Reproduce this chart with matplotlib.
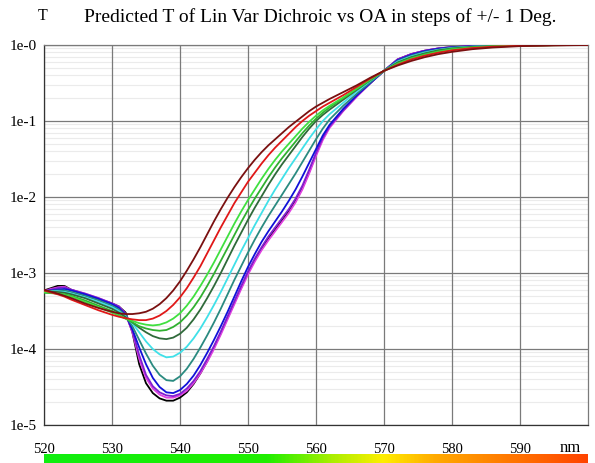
import numpy as np
import matplotlib

matplotlib.use("Agg")
import matplotlib.pyplot as plt
from matplotlib.colors import LinearSegmentedColormap
from matplotlib.ticker import FixedLocator, LogLocator, NullFormatter

plt.rcParams["font.family"] = ["Liberation Serif", "DejaVu Serif"]

# wavelength samples (nm)
wl = [520, 521, 522, 523, 524, 526, 528, 530, 531, 532, 533, 534, 535, 536, 537, 538, 539,
      540, 541, 542, 543, 544, 545, 546, 547, 548, 549, 550, 551, 552, 553, 554, 555, 556,
      557, 558, 559, 560, 561, 562, 564, 566, 568, 570, 572, 574, 576, 578, 580, 583, 586,
      590, 595, 600]

# log10(T), one list per curve
maroon = [-3.22, -3.245, -3.27, -3.30, -3.33, -3.40, -3.46, -3.51, -3.53, -3.54, -3.54, -3.53,
          -3.51, -3.47, -3.41, -3.33, -3.23, -3.11, -2.97, -2.82, -2.66, -2.49, -2.32, -2.16,
          -2.01, -1.87, -1.74, -1.62, -1.51, -1.41, -1.32, -1.24, -1.16, -1.08, -1.01, -0.94,
          -0.87, -0.81, -0.76, -0.71, -0.62, -0.53, -0.43, -0.34, -0.27, -0.21, -0.16, -0.12,
          -0.09, -0.055, -0.033, -0.015, -0.005, 0.0]
red = [-3.23, -3.255, -3.28, -3.31, -3.35, -3.42, -3.49, -3.55, -3.575, -3.595, -3.61, -3.62,
       -3.62, -3.60, -3.56, -3.50, -3.42, -3.32, -3.20, -3.06, -2.91, -2.74, -2.57, -2.40,
       -2.24, -2.08, -1.94, -1.80, -1.68, -1.56, -1.45, -1.35, -1.26, -1.17, -1.08, -1.00,
       -0.93, -0.87, -0.81, -0.76, -0.66, -0.55, -0.44, -0.34, -0.26, -0.19, -0.14, -0.10,
       -0.07, -0.04, -0.022, -0.01, -0.003, 0.0]
lime = [-3.25, -3.26, -3.27, -3.29, -3.31, -3.38, -3.45, -3.52, -3.56, -3.60, -3.63, -3.66,
        -3.68, -3.69, -3.68, -3.65, -3.60, -3.53, -3.43, -3.31, -3.17, -3.02, -2.86, -2.69,
        -2.52, -2.35, -2.19, -2.04, -1.90, -1.76, -1.63, -1.51, -1.40, -1.30, -1.20, -1.10,
        -1.01, -0.93, -0.86, -0.80, -0.69, -0.57, -0.45, -0.34, -0.25, -0.18, -0.13, -0.09,
        -0.06, -0.035, -0.02, -0.008, -0.002, 0.0]
green = [-3.26, -3.265, -3.27, -3.28, -3.30, -3.36, -3.43, -3.50, -3.55, -3.60, -3.65, -3.70,
         -3.73, -3.75, -3.76, -3.75, -3.71, -3.65, -3.56, -3.45, -3.32, -3.17, -3.01, -2.84,
         -2.67, -2.50, -2.33, -2.17, -2.02, -1.88, -1.74, -1.61, -1.49, -1.38, -1.27, -1.16,
         -1.06, -0.97, -0.89, -0.82, -0.70, -0.58, -0.46, -0.34, -0.24, -0.17, -0.12, -0.08,
         -0.05, -0.03, -0.017, -0.007, -0.002, 0.0]
dkgreen = [-3.24, -3.245, -3.25, -3.26, -3.28, -3.33, -3.40, -3.47, -3.52, -3.58, -3.65, -3.72,
           -3.78, -3.83, -3.86, -3.87, -3.85, -3.80, -3.72, -3.61, -3.48, -3.33, -3.17, -3.00,
           -2.82, -2.64, -2.47, -2.30, -2.14, -1.99, -1.84, -1.70, -1.57, -1.45, -1.33, -1.21,
           -1.10, -1.00, -0.92, -0.85, -0.72, -0.59, -0.46, -0.34, -0.23, -0.16, -0.11, -0.07,
           -0.045, -0.025, -0.014, -0.006, -0.002, 0.0]
cyan = [-3.24, -3.24, -3.24, -3.25, -3.27, -3.32, -3.38, -3.45, -3.50, -3.57, -3.66, -3.78,
        -3.90, -4.00, -4.07, -4.11, -4.10, -4.05, -3.97, -3.86, -3.73, -3.58, -3.42, -3.25,
        -3.07, -2.89, -2.71, -2.54, -2.37, -2.21, -2.05, -1.90, -1.76, -1.62, -1.49, -1.36,
        -1.23, -1.11, -1.00, -0.91, -0.76, -0.61, -0.47, -0.34, -0.22, -0.15, -0.10, -0.065,
        -0.04, -0.022, -0.012, -0.005, -0.0015, 0.0]
teal = [-3.24, -3.235, -3.23, -3.23, -3.25, -3.30, -3.36, -3.43, -3.48, -3.56, -3.70, -3.88,
        -4.06, -4.22, -4.34, -4.41, -4.42, -4.36, -4.26, -4.13, -3.98, -3.82, -3.65, -3.47,
        -3.28, -3.09, -2.91, -2.73, -2.56, -2.40, -2.25, -2.11, -1.97, -1.83, -1.69, -1.54,
        -1.39, -1.24, -1.10, -0.98, -0.80, -0.64, -0.49, -0.34, -0.21, -0.14, -0.09, -0.06,
        -0.035, -0.02, -0.01, -0.004, -0.001, 0.0]
blue = [-3.24, -3.23, -3.22, -3.21, -3.23, -3.28, -3.34, -3.41, -3.46, -3.55, -3.74, -3.98,
        -4.20, -4.38, -4.50, -4.57, -4.58, -4.54, -4.46, -4.35, -4.21, -4.05, -3.88, -3.70,
        -3.51, -3.31, -3.11, -2.92, -2.75, -2.59, -2.45, -2.32, -2.19, -2.05, -1.90, -1.73,
        -1.55, -1.37, -1.19, -1.05, -0.84, -0.66, -0.50, -0.34, -0.20, -0.13, -0.08, -0.05,
        -0.03, -0.016, -0.008, -0.003, -0.001, 0.0]
purple = [-3.24, -3.22, -3.20, -3.19, -3.22, -3.27, -3.33, -3.40, -3.44, -3.54, -3.76, -4.08,
          -4.34, -4.49, -4.57, -4.61, -4.62, -4.59, -4.52, -4.42, -4.29, -4.13, -3.96, -3.77,
          -3.57, -3.37, -3.17, -2.98, -2.81, -2.66, -2.52, -2.40, -2.28, -2.16, -2.02, -1.85,
          -1.64, -1.42, -1.22, -1.07, -0.86, -0.67, -0.50, -0.34, -0.19, -0.12, -0.075, -0.045,
          -0.028, -0.015, -0.008, -0.003, -0.001, 0.0]
magenta = [-3.24, -3.21, -3.19, -3.18, -3.22, -3.27, -3.33, -3.40, -3.44, -3.54, -3.78, -4.13,
           -4.38, -4.52, -4.60, -4.64, -4.64, -4.61, -4.55, -4.45, -4.32, -4.17, -4.00, -3.81,
           -3.61, -3.41, -3.21, -3.02, -2.85, -2.70, -2.57, -2.45, -2.33, -2.21, -2.07, -1.90,
           -1.69, -1.46, -1.25, -1.09, -0.87, -0.68, -0.50, -0.34, -0.19, -0.12, -0.075, -0.045,
           -0.028, -0.015, -0.008, -0.003, -0.001, 0.0]
black = [-3.23, -3.20, -3.17, -3.17, -3.22, -3.28, -3.34, -3.40, -3.44, -3.52, -3.78, -4.20,
         -4.45, -4.58, -4.65, -4.68, -4.68, -4.64, -4.57, -4.46, -4.32, -4.16, -3.98, -3.79,
         -3.59, -3.39, -3.19, -3.00, -2.83, -2.68, -2.55, -2.43, -2.31, -2.19, -2.05, -1.88,
         -1.67, -1.44, -1.23, -1.07, -0.86, -0.67, -0.50, -0.34, -0.19, -0.12, -0.075, -0.045,
         -0.028, -0.015, -0.008, -0.003, -0.001, 0.0]

curves = [
    (black, "#000000"),
    (magenta, "#e040e0"),
    (purple, "#8020d0"),
    (blue, "#1010d8"),
    (teal, "#2a8a80"),
    (cyan, "#40e0e8"),
    (dkgreen, "#2f6a3a"),
    (green, "#30b030"),
    (lime, "#40e040"),
    (red, "#e01818"),
    (maroon, "#7a1010"),
]

xticks = [520, 530, 540, 550, 560, 570, 580, 590]
ytick_vals = [1e0, 1e-1, 1e-2, 1e-3, 1e-4, 1e-5]
ytick_labels = ["1e-0", "1e-1", "1e-2", "1e-3", "1e-4", "1e-5"]

fig = plt.figure(figsize=(5.95, 4.63), dpi=100)
ax = fig.add_axes([44 / 595, 1 - 425 / 463, 544 / 595, 380 / 463])

wl_arr = np.array(wl)
for vals, col in curves:
    assert len(vals) == len(wl)
    ax.plot(wl_arr, 10 ** np.array(vals), color=col, lw=1.3, zorder=4,
            solid_joinstyle="round")

ax.set_yscale("log")
ax.set_xlim(520, 600)
ax.set_ylim(1e-5, 1.0)

ax.xaxis.set_major_locator(FixedLocator(xticks))
ax.yaxis.set_major_locator(FixedLocator(ytick_vals))
ax.set_yticklabels(ytick_labels)
ax.yaxis.set_minor_locator(LogLocator(base=10, subs=np.arange(2, 10)))
ax.yaxis.set_minor_formatter(NullFormatter())

# light minor rows as axis grid, the darker decade and 10 nm lines drawn above them
ax.set_axisbelow(True)
ax.grid(True, which="minor", axis="y", color="#ebebeb", lw=0.8, ls="-")
for yv in ytick_vals:
    ax.axhline(yv, color="#7a7a7a", lw=0.9, ls="-", zorder=2)
for xv in xticks:
    ax.axvline(xv, color="#7a7a7a", lw=0.9, ls="-", zorder=2)

ax.tick_params(which="both", length=0)
ax.tick_params(axis="y", labelsize=11, pad=5)
ax.tick_params(axis="x", labelsize=10.5, pad=13)
for s in ax.spines.values():
    s.set_color("#7a7a7a")
    s.set_linewidth(0.9)
ax.spines["left"].set_color("#333333")
ax.spines["bottom"].set_color("#333333")

fig.text(570 / 595, 1 - 448 / 463, "nm", fontsize=12, ha="center", va="center")
fig.text(43 / 595, 1 - 16 / 463, "T", fontsize=11.5, ha="center", va="center")
fig.text(320 / 595, 1 - 17 / 463,
         "Predicted T of Lin Var Dichroic vs OA in steps of +/- 1 Deg.",
         fontsize=14, ha="center", va="center")

# spectrum colour strip under the axis
strip_cols = [(0.0, "#10ee10"), (0.41, "#20ee00"), (0.53, "#aaee00"),
              (0.625, "#ffee00"), (0.72, "#ffaa00"), (0.86, "#ff7700"), (1.0, "#ff4400")]
cmap = LinearSegmentedColormap.from_list("spec", strip_cols)
cax = fig.add_axes([44 / 595, 0, 544 / 595, 9 / 463])
cax.imshow(np.linspace(0, 1, 400)[None, :], aspect="auto", cmap=cmap,
           extent=[520, 600, 0, 1])
cax.axis("off")

fig.savefig("out.png", dpi=100)
